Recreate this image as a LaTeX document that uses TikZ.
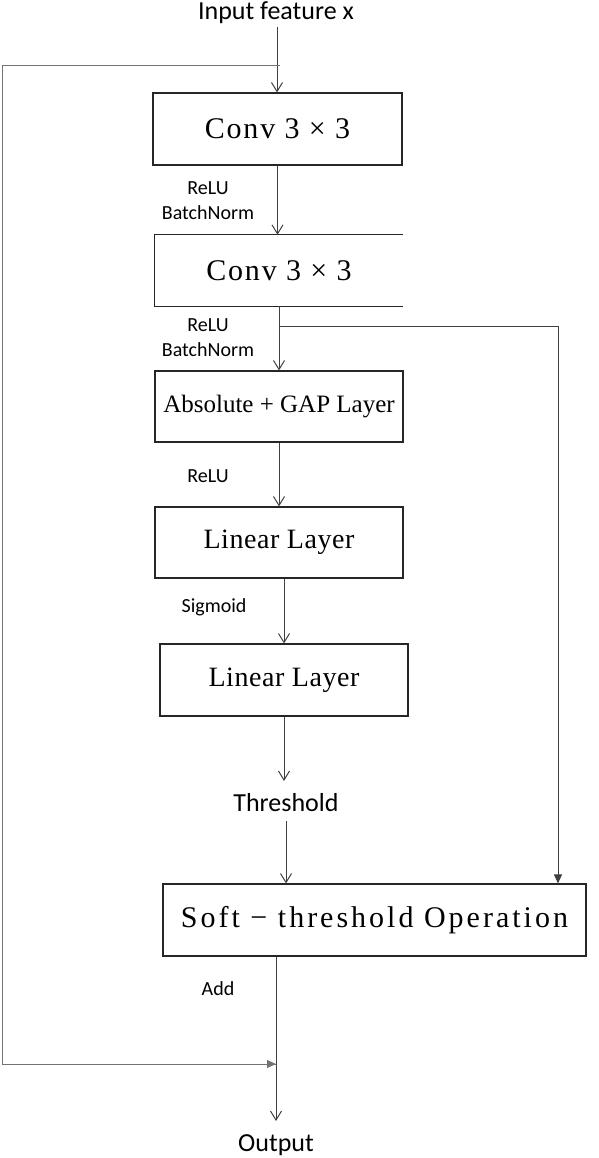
\documentclass[tikz,border=0pt]{standalone}
\usepackage{fontspec}
\setmainfont{Liberation Serif}
\newfontfamily\lblfont{Carlito}
\usetikzlibrary{arrows.meta}
\begin{document}
\begin{tikzpicture}[x=1pt,y=-1pt,
 blk/.style={draw=black!85, line width=1.1pt, minimum height=72pt, minimum width=248pt, inner sep=0pt},
 openblk/.style={minimum height=71pt, minimum width=248pt, inner sep=0pt},
 lbl/.style={font=\lblfont\fontsize{20}{24}\selectfont, inner sep=0pt},
 big/.style={font=\lblfont\fontsize{26}{30}\selectfont, inner sep=0pt},
 arr/.style={draw=black!75, line width=1pt, -{Straight Barb[length=9pt,width=11pt]}},
 fill arr/.style={draw=black!60, line width=1pt, -{Triangle[length=9pt,width=8pt]}},
 conn/.style={draw=black!75, line width=1pt},
 fconv/.style={font=\fontsize{30}{34}\selectfont\addfontfeature{LetterSpace=6}},
 fabs/.style={font=\fontsize{25}{30}\selectfont},
 flin/.style={font=\fontsize{28}{32}\selectfont\addfontfeature{LetterSpace=2}},
 fsoft/.style={font=\fontsize{30}{34}\selectfont\addfontfeature{LetterSpace=10}}
]
\useasboundingbox (0,0) rectangle (598,1158);

% texts
\node[big] (in) at (276,13) {Input feature x};
\node[big] (thr) at (286,803) {Threshold};
\node[big] (out) at (276,1145) {Output};

% blocks
\node[blk, fconv, minimum width=249pt] (b1) at (277.5,129) {Conv 3 × 3};
\node[openblk, fconv] (b2) at (279,270.5) {Conv 3 × 3};
\draw[draw=black!85, line width=1.1pt] (b2.north east) -- (b2.north west) -- (b2.south west) -- (b2.south east);
\node[blk, fabs, minimum height=71pt] (b3) at (279,406.5) {Absolute + GAP Layer};
\node[blk, flin, minimum height=71pt] (b4) at (279,542.5) {Linear Layer};
\node[blk, flin] (b5) at (284,680) {Linear Layer};
\node[blk, fsoft, minimum width=423pt] (b6) at (374.5,920) {Soft − threshold Operation};

% labels
\node[lbl] (l1a) at (208,188) {ReLU};
\node[lbl] (l1b) at (208,213) {BatchNorm};
\node[lbl] (l2a) at (208,325) {ReLU};
\node[lbl] (l2b) at (208,350) {BatchNorm};
\node[lbl] (l3) at (208,476) {ReLU};
\node[lbl] (l4) at (214,607) {Sigmoid};
\node[lbl] (l5) at (218,989) {Add};

% coordinates
\coordinate (inEnd) at (277,27);
\coordinate (thrTop) at (284,781);
\coordinate (thrBot) at (286,821);
\coordinate (outTop) at (276,1121);
\coordinate (skA) at (280,66);
\coordinate (skB) at (2,66);
\coordinate (skC) at (2,1064);
\coordinate (skD) at (276,1064);
\coordinate (brA) at (280,326);
\coordinate (brB) at (558,326);

% main arrows
\draw[arr] (inEnd) -- (inEnd |- b1.north);
\draw[arr] (b1.south) -- (b1.south |- b2.north);
\draw[arr] (b2.south -| b3.north) -- (b3.north);
\draw[arr] (b3.south) -- (b4.north);
\draw[arr] (b4.south -| b5.north) -- (b5.north);
\draw[arr] (b5.south) -- (thrTop);
\draw[arr] (thrBot) -- (thrBot |- b6.north);
\draw[arr] (b6.south -| outTop) -- (outTop);

% skip connection
\draw[draw=black!55, line width=1pt] (skA) -- (skB) -- (skC) -- (skD);
\draw[fill arr, draw=black!55] (skC) -- (skD);

% branch to soft threshold
\draw[conn] (brA) -- (brB);
\draw[fill arr, draw=black!75] (brB) -- (brB |- b6.north);
\end{tikzpicture}
\end{document}
